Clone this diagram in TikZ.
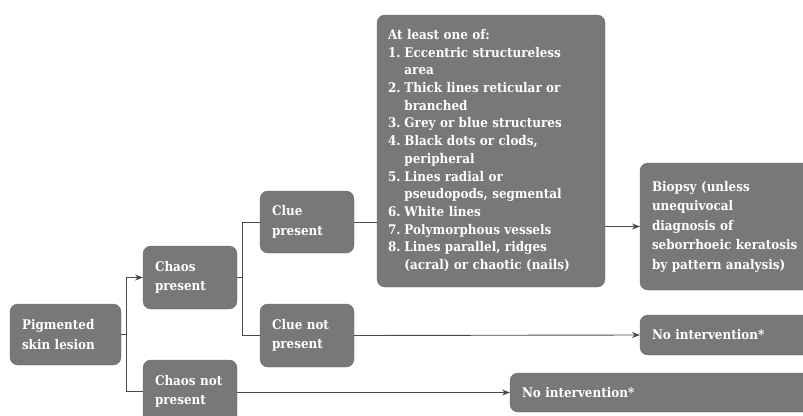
\documentclass[tikz,border=0pt]{standalone}
\usepackage{fontspec}
\newfontfamily\slab{DejaVu Serif Condensed}[BoldFont={* Bold}]
\usetikzlibrary{arrows.meta}
\definecolor{boxgray}{HTML}{787878}
\definecolor{linegray}{HTML}{4A4A4A}
\tikzset{
  box/.style={fill=boxgray, draw=boxgray!90!black, line width=0.4pt, rounded corners=8pt,
    text=white, align=left, inner xsep=12pt, inner ysep=0pt, outer sep=0pt,
    font=\slab\bfseries\fontsize{13.3}{19.5}\selectfont, anchor=center},
  conn/.style={draw=linegray, line width=0.9pt},
  arr/.style={conn, -{Stealth[length=8pt,width=6pt]}}
}
\begin{document}
\begin{tikzpicture}[x=1pt,y=-1pt]
\path[use as bounding box, clip] (0,0) rectangle (803,415);
\fill[white] (0,0) rectangle (803,415);
% boxes
\node[box, text width=87pt, minimum height=61pt] (pig) at (65.5,334.5) {Pigmented\\skin lesion};
\node[box, text width=70pt, minimum height=63pt] (chaos) at (190,277.5) {Chaos\\present};
\node[box, text width=70pt, minimum height=63pt] (nochaos) at (190,391.5) {Chaos not\\present};
\node[box, text width=70pt, minimum height=62pt] (clue) at (307,222) {Clue\\present};
\node[box, text width=70pt, minimum height=63pt] (noclue) at (307,335.5) {Clue not\\present};
\node[box, inner xsep=11pt, text width=206pt, minimum height=272pt] (list) at (491,151) {%
  \fontsize{13.3}{17.7}\selectfont
  \begin{tabular}{@{}l@{\hspace{4pt}}l@{}}
  \multicolumn{2}{@{}l@{}}{At least one of:}\\
  1. & Eccentric structureless\\
     & area\\
  2. & Thick lines reticular or\\
     & branched\\
  3. & Grey or blue structures\\
  4. & Black dots or clods,\\
     & peripheral\\
  5. & Lines radial or\\
     & pseudopods, segmental\\
  6. & White lines\\
  7. & Polymorphous vessels\\
  8. & Lines parallel, ridges\\
     & (acral) or chaotic (nails)
  \end{tabular}};
\node[box, text width=156pt, minimum height=127pt] (biopsy) at (730,226.5) {Biopsy (unless\\unequivocal\\diagnosis of\\seborrhoeic keratosis\\by pattern analysis)};
\node[box, text width=156pt, minimum height=40pt] (noint1) at (730,335) {No intervention*};
\node[box, text width=286pt, minimum height=39pt] (noint2) at (665,392.5) {No intervention*};
% junction coordinates
\coordinate (j1) at (126,334.5);
\coordinate (j2) at (242,277.5);
% connectors
\draw[conn] (pig.east) -- (j1);
\draw[arr] (j1) |- (chaos.west);
\draw[conn] (j1) |- (nochaos.west);
\draw[conn] (chaos.east) -- (j2);
\draw[conn] (j2) |- (clue.west);
\draw[conn] (j2) |- (noclue.west);
\draw[conn] (clue.east) -- (list.west |- clue.east);
\draw[arr] (list.east |- biopsy.west) -- (biopsy.west);
\draw[arr] (noclue.east) -- (noint1.west);
\draw[arr] (nochaos.east |- noint2.west) -- (noint2.west);
\end{tikzpicture}
\end{document}
